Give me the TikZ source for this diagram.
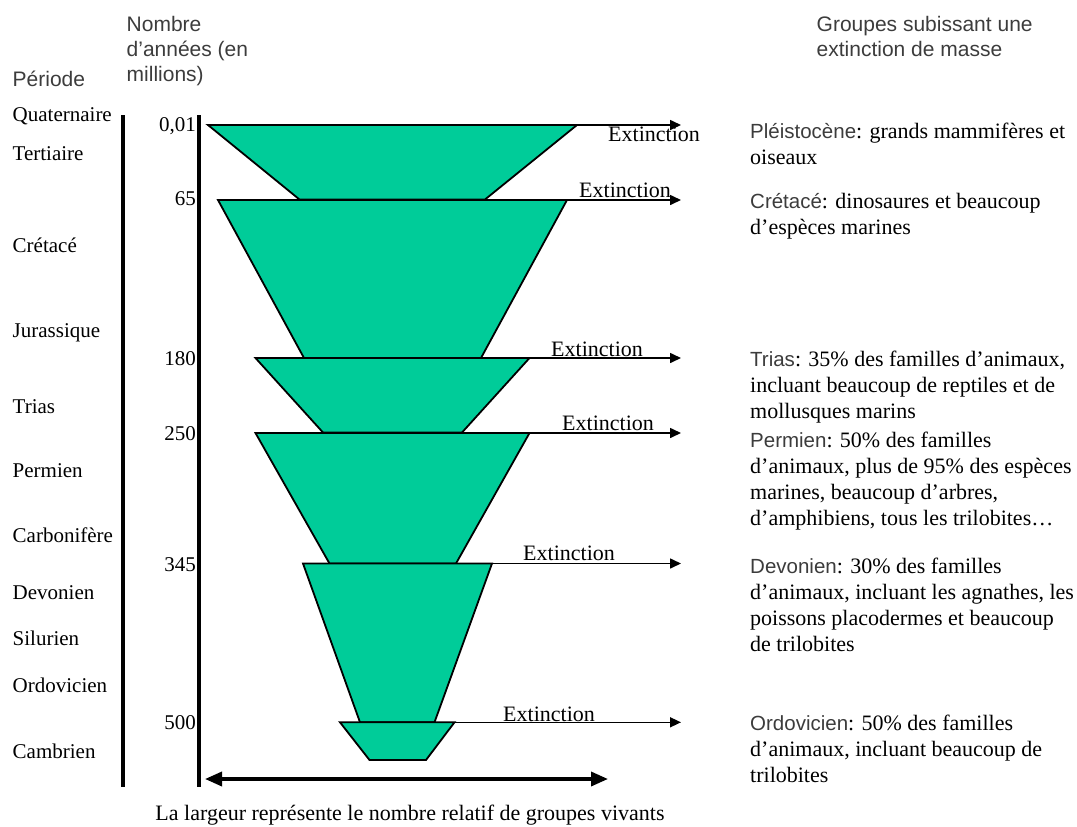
\documentclass[tikz,border=0pt]{standalone}
\usepackage{fontspec}
\setmainfont{Liberation Serif}
\setsansfont{Liberation Sans}
\usetikzlibrary{arrows.meta}
\definecolor{vert}{RGB}{0,204,153}
\definecolor{grisT}{RGB}{60,60,60}
\newcommand{\sn}[1]{{\sffamily\fontsize{20.5}{26}\selectfont\color{grisT}#1}}
\begin{document}
\begin{tikzpicture}[x=1pt,y=-1pt,
  trap/.style={fill=vert,draw=black,line width=1.8pt,line join=miter},
  arr/.style={draw=black,line width=1.6pt,-{Triangle[length=11pt,width=10pt]}},
  bar/.style={draw=black,line width=4pt},
  dbl/.style={draw=black,line width=3.5pt,{Triangle[length=17pt,width=14pt]}-{Triangle[length=17pt,width=14pt]}},
  lbl/.style={anchor=base west,inner sep=0pt,font=\fontsize{21}{25}\selectfont},
  num/.style={anchor=base east,inner sep=0pt,font=\fontsize{21}{25}\selectfont},
  ext/.style={anchor=base west,inner sep=0pt,font=\fontsize{22}{26}\selectfont},
  desc/.style={anchor=base west,inner sep=0pt,align=left,font=\fontsize{22}{26}\selectfont},
  head/.style={anchor=base west,inner sep=0pt,align=left,font=\sffamily\fontsize{21}{25}\selectfont,text=grisT}]
\useasboundingbox (0,0) rectangle (1077,827);

% headers (base anchor = last line)
\node[head] (hper) at (12.5,86) {Période};
\node[head] (hnb) at (126.5,81.7) {Nombre\\d’années (en\\millions)};
\node[head] (hgr) at (816.5,56.7) {Groupes subissant une\\extinction de masse};

% period labels
\node[lbl] (pq) at (12.5,121.7) {Quaternaire};
\node[lbl] (pt) at (12.5,160.7) {Tertiaire};
\node[lbl] (pc) at (12.5,252) {Crétacé};
\node[lbl] (pj) at (12.5,337) {Jurassique};
\node[lbl] (ptr) at (12.5,413) {Trias};
\node[lbl] (pp) at (12.5,477) {Permien};
\node[lbl] (pca) at (12.5,542) {Carbonifère};
\node[lbl] (pd) at (12.5,599) {Devonien};
\node[lbl] (ps) at (12.5,645) {Silurien};
\node[lbl] (po) at (12.5,692) {Ordovicien};
\node[lbl] (pcb) at (12.5,758) {Cambrien};

% axes bars
\coordinate (b1t) at (123,115);
\coordinate (b1b) at (123,787);
\coordinate (b2t) at (199,115);
\coordinate (b2b) at (199,787);
\draw[bar] (b1t) -- (b1b);
\draw[bar] (b2t) -- (b2b);

% numbers
\node[num] (n1) at (196,131.7) {0,01};
\node[num] (n2) at (196,205) {65};
\node[num] (n3) at (196,365.7) {180};
\node[num] (n4) at (196,440.7) {250};
\node[num] (n5) at (196,571.5) {345};
\node[num] (n6) at (196,729) {500};

% trapezoids
\coordinate (t1tl) at (208,125);   \coordinate (t1tr) at (577,125);
\coordinate (t1br) at (485,199.5); \coordinate (t1bl) at (299.5,199.5);
\coordinate (t2tl) at (218,200);   \coordinate (t2tr) at (567,200);
\coordinate (t2br) at (481,358);   \coordinate (t2bl) at (304,358);
\coordinate (t3tl) at (255.5,358); \coordinate (t3tr) at (529.5,358);
\coordinate (t3br) at (462,432.5); \coordinate (t3bl) at (323,432.5);
\coordinate (t4tl) at (255.5,433); \coordinate (t4tr) at (529.5,433);
\coordinate (t4br) at (456,563.5); \coordinate (t4bl) at (329.5,563.5);
\coordinate (t5tl) at (303,563.5); \coordinate (t5tr) at (492,563.5);
\coordinate (t5br) at (434.5,722.3); \coordinate (t5bl) at (360,722.3);
\coordinate (t6tl) at (340,722.3); \coordinate (t6tr) at (454.5,722.3);
\coordinate (t6br) at (426,760);   \coordinate (t6bl) at (369.5,760);

\draw[trap] (t1tl) -- (t1tr) -- (t1br) -- (t1bl) -- cycle;
\draw[trap] (t2tl) -- (t2tr) -- (t2br) -- (t2bl) -- cycle;
\draw[trap] (t3tl) -- (t3tr) -- (t3br) -- (t3bl) -- cycle;
\draw[trap] (t4tl) -- (t4tr) -- (t4br) -- (t4bl) -- cycle;
\draw[trap] (t5tl) -- (t5tr) -- (t5br) -- (t5bl) -- cycle;
\draw[trap] (t6tl) -- (t6tr) -- (t6br) -- (t6bl) -- cycle;

% extinction arrows
\coordinate (a1) at (681,125);
\coordinate (a2) at (681,200);
\coordinate (a3) at (681,358);
\coordinate (a4) at (681,433);
\coordinate (a5) at (681,563.5);
\coordinate (a6) at (681,722.3);
\draw[arr] (t1tr) -- (a1);
\draw[arr] (t2tr) -- (a2);
\draw[arr] (t3tr) -- (a3);
\draw[arr] (t4tr) -- (a4);
\draw[arr] (t5tr) -- (a5);
\draw[arr] (t6tr) -- (a6);

\node[ext] (e1) at (608,141.5) {Extinction};
\node[ext] (e2) at (579,197) {Extinction};
\node[ext] (e3) at (551,356) {Extinction};
\node[ext] (e4) at (562,430) {Extinction};
\node[ext] (e5) at (523,560.5) {Extinction};
\node[ext] (e6) at (503,721) {Extinction};

% width arrow
\coordinate (wl) at (205,779);
\coordinate (wr) at (608,779);
\draw[dbl] (wl) -- (wr);
\node[anchor=base,inner sep=0pt,font=\fontsize{22}{26}\selectfont] (wt) at (410,820)
  {La largeur représente le nombre relatif de groupes vivants};

% descriptions (base anchor = last line)
\node[desc] (d1) at (750,164) {\sn{Pléistocène}: grands mammifères et\\oiseaux};
\node[desc] (d2) at (750,234.5) {\sn{Crétacé}: dinosaures et beaucoup\\d’espèces marines};
\node[desc] (d3) at (750,418.5) {\sn{Trias}: 35\% des familles d’animaux,\\incluant beaucoup de reptiles et de\\mollusques marins};
\node[desc] (d4) at (750,525) {\sn{Permien}: 50\% des familles\\d’animaux, plus de 95\% des espèces\\marines, beaucoup d’arbres,\\d’amphibiens, tous les trilobites…};
\node[desc] (d5) at (750,651.5) {\sn{Devonien}: 30\% des familles\\d’animaux, incluant les agnathes, les\\poissons placodermes et beaucoup\\de trilobites};
\node[desc] (d6) at (750,782) {\sn{Ordovicien}: 50\% des familles\\d’animaux, incluant beaucoup de\\trilobites};
\end{tikzpicture}
\end{document}
